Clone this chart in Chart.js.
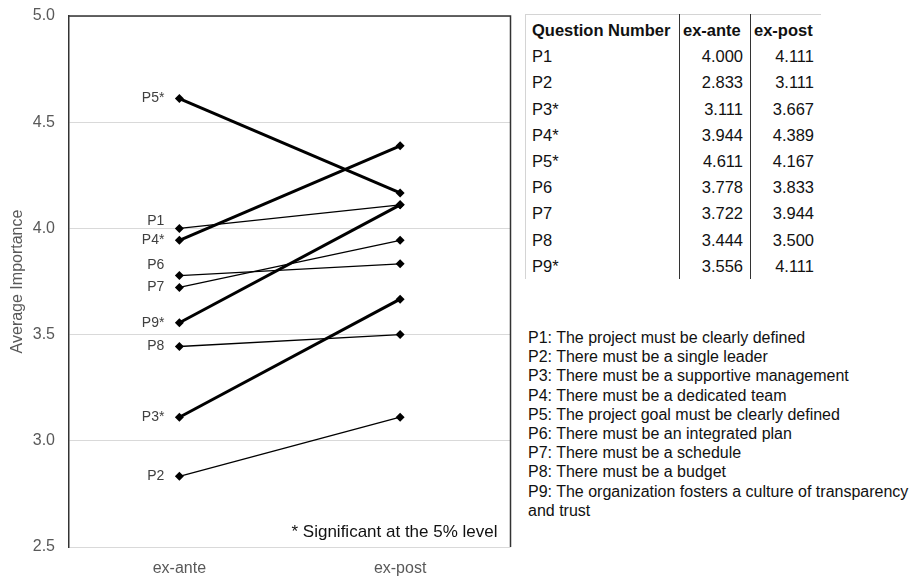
<!DOCTYPE html>
<html lang="en">
<head>
  <meta charset="UTF-8">
  <title>Average Importance</title>
  <script src="https://cdn.jsdelivr.net/npm/chart.js"></script>
  <style>
    body {
      margin: 0;
      width: 921px;
      height: 577px;
      background: #fff;
      font-family: 'Liberation Sans', Arial, sans-serif;
      color: #111;
      position: relative;
      overflow: hidden;
    }

    .chart-box {
      position: absolute;
      left: 0;
      top: 0;
      width: 515px;
      height: 577px;
    }

    table.scores {
      position: absolute;
      left: 525px;
      top: 14px;
      border-collapse: collapse;
      font-size: 16.5px;
      border-top: 1px solid #d4d4d4;
      border-left: 1px solid #d4d4d4;
    }

    table.scores th, table.scores td {
      height: 26.2px;
      padding: 0 7px 0 6px;
      line-height: 26px;
      white-space: nowrap;
    }

    table.scores th {
      text-align: left;
      font-weight: bold;
      padding-top: 2px;
    }

    table.scores td.num {
      text-align: right;
    }

    table.scores .sep {
      border-left: 1.5px solid #333;
    }

    table.scores th.sep {
      padding-left: 3px;
    }

    .legend {
      position: absolute;
      left: 528px;
      top: 328px;
      width: 390px;
      font-size: 16px;
      line-height: 19.2px;
    }
  </style>
</head>
<body>

<div class="chart-box">
  <canvas id="importanceChart"></canvas>
</div>

<table class="scores" id="scoreTable"></table>
<div class="legend" id="legend"></div>

<script>
  const questions = ["P1", "P2", "P3", "P4", "P5", "P6", "P7", "P8", "P9"];
  const exAnte = [4.000, 2.833, 3.111, 3.944, 4.611, 3.778, 3.722, 3.444, 3.556];
  const exPost = [4.111, 3.111, 3.667, 4.389, 4.167, 3.833, 3.944, 3.500, 4.111];
  const significant = [false, false, true, true, true, false, false, false, true];
  const periods = ["ex-ante", "ex-post"];
  const yTicks = [2.5, 3.0, 3.5, 4.0, 4.5, 5.0];
  const descriptions = [
    "The project must be clearly defined",
    "There must be a single leader",
    "There must be a supportive management",
    "There must be a dedicated team",
    "The project goal must be clearly defined",
    "There must be an integrated plan",
    "There must be a schedule",
    "There must be a budget",
    "The organization fosters a culture of transparency and trust"
  ];

  const labelFor = i => questions[i] + (significant[i] ? "*" : "");

  // table on the right
  const table = document.getElementById("scoreTable");
  let html = '<tr><th>Question Number</th><th class="sep">' + periods[0] +
             '</th><th class="sep">' + periods[1] + '</th></tr>';
  questions.forEach((q, i) => {
    html += '<tr><td style="width:140px">' + labelFor(i) + '</td>' +
            '<td class="num sep" style="width:57px">' + exAnte[i].toFixed(3) + '</td>' +
            '<td class="num sep" style="width:57px">' + exPost[i].toFixed(3) + '</td></tr>';
  });
  table.innerHTML = html;

  document.getElementById("legend").innerHTML =
    questions.map((q, i) => q + ": " + descriptions[i]).join("<br>");

  const fontFamily = "'Liberation Sans', Arial, sans-serif";

  // labels left of the ex-ante points (a couple nudged up so they don't collide)
  const labelNudge = { P1: -7, P6: -10 };

  const pointLabels = {
    id: 'pointLabels',
    afterDatasetsDraw(chart) {
      const ctx = chart.ctx;
      ctx.save();
      ctx.font = "14px " + fontFamily;
      ctx.fillStyle = "#404040";
      ctx.textAlign = "right";
      ctx.textBaseline = "middle";
      chart.data.datasets.forEach((ds, i) => {
        const pt = chart.getDatasetMeta(i).data[0];
        ctx.fillText(labelFor(i), pt.x - 15, pt.y + (labelNudge[questions[i]] || 0));
      });
      ctx.restore();
    }
  };

  const frame = {
    id: 'frame',
    afterDraw(chart) {
      const { ctx, chartArea: a } = chart;
      ctx.save();
      ctx.strokeStyle = "#333";
      ctx.lineWidth = 1.5;
      ctx.beginPath();
      ctx.moveTo(a.left, a.top);
      ctx.lineTo(a.right, a.top);
      ctx.lineTo(a.right, a.bottom);
      ctx.stroke();

      ctx.font = "17px " + fontFamily;
      ctx.fillStyle = "#111";
      ctx.textAlign = "right";
      ctx.textBaseline = "middle";
      ctx.fillText("* Significant at the 5% level", a.right - 13, a.bottom - 15);
      ctx.restore();
    }
  };

  const ctx = document.getElementById('importanceChart').getContext('2d');

  new Chart(ctx, {
    type: 'line',
    data: {
      labels: periods,
      datasets: questions.map((q, i) => ({
        label: labelFor(i),
        data: [exAnte[i], exPost[i]],
        borderColor: '#000',
        backgroundColor: '#000',
        borderWidth: significant[i] ? 3 : 1.3,
        pointStyle: 'rectRot',
        pointRadius: 4.5,
        pointBorderWidth: 0,
        tension: 0
      }))
    },
    options: {
      responsive: true,
      maintainAspectRatio: false,
      animation: false,
      layout: {
        padding: { top: 16, right: 4, left: 0, bottom: 0 }
      },
      plugins: {
        legend: { display: false },
        tooltip: { enabled: false }
      },
      scales: {
        x: {
          offset: true,
          grid: { display: false, drawTicks: false },
          border: { display: false },
          ticks: {
            color: '#595959',
            padding: 12,
            font: { size: 16, family: fontFamily }
          },
          afterFit(scale) { scale.height = 30; }
        },
        y: {
          min: yTicks[0],
          max: yTicks[yTicks.length - 1],
          afterBuildTicks(scale) {
            scale.ticks = yTicks.map(v => ({ value: v }));
          },
          grid: { color: '#d9d9d9', lineWidth: 1, drawTicks: false },
          border: { color: '#333', width: 1.5 },
          ticks: {
            color: '#595959',
            padding: 14,
            font: { size: 16, family: fontFamily },
            callback: v => Number(v).toFixed(1)
          },
          title: {
            display: true,
            text: 'Average Importance',
            color: '#595959',
            padding: { top: 8 },
            font: { size: 16, family: fontFamily }
          },
          afterFit(scale) {
            scale.width = 69;
            scale.paddingTop = 0;
            scale.paddingBottom = 0;
          }
        }
      }
    },
    plugins: [pointLabels, frame]
  });
</script>

</body>
</html>
